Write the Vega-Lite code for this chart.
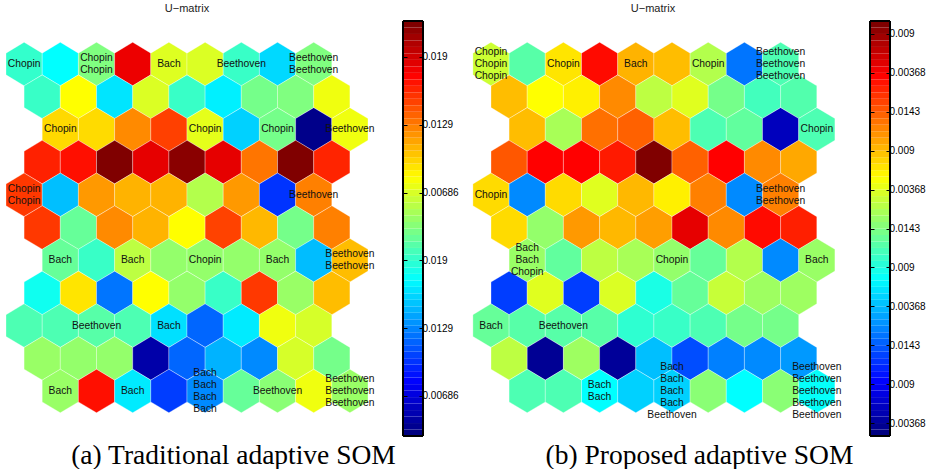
{
"$schema": "https://vega.github.io/schema/vega-lite/v6.json",
"background": "white",
"padding": {"left": 4, "top": 3, "right": 0, "bottom": 0},
"config": {"view": {"stroke": null}, "font": "Liberation Sans", "axis": {"grid": false}, "text": {"font": "Liberation Sans", "fontSize": 10.3, "lineHeight": 12, "lineBreak": "\n", "align": "center", "baseline": "middle", "color": "#111"}},
"bounds": "flush",
"spacing": 35,
"datasets": {
"somA": [
{"r":0,"x":0,"u":0.425,"t":"Chopin"},{"r":0,"x":1,"u":0.375,"t":""},{"r":0,"x":2,"u":0.5,"t":"Chopin\nChopin"},{"r":0,"x":3,"u":0.893,"t":""},{"r":0,"x":4,"u":0.593,"t":"Bach"},{"r":0,"x":5,"u":0.59,"t":""},{"r":0,"x":6,"u":0.43,"t":"Beethoven"},{"r":0,"x":7,"u":0.3375,"t":""},{"r":0,"x":8,"u":0.5,"t":"Beethoven\nBeethoven"},
{"r":1,"x":0.5,"u":0.43,"t":""},{"r":1,"x":1.5,"u":0.625,"t":""},{"r":1,"x":2.5,"u":0.35,"t":""},{"r":1,"x":3.5,"u":0.59,"t":""},{"r":1,"x":4.5,"u":0.43,"t":""},{"r":1,"x":5.5,"u":0.36,"t":""},{"r":1,"x":6.5,"u":0.49,"t":""},{"r":1,"x":7.5,"u":0.5,"t":""},{"r":1,"x":8.5,"u":0.61,"t":""},
{"r":2,"x":1,"u":0.6625,"t":"Chopin"},{"r":2,"x":2,"u":0.66,"t":""},{"r":2,"x":3,"u":0.74,"t":""},{"r":2,"x":4,"u":0.8125,"t":""},{"r":2,"x":5,"u":0.6,"t":"Chopin"},{"r":2,"x":6,"u":0.33,"t":""},{"r":2,"x":7,"u":0.49,"t":"Chopin"},{"r":2,"x":8,"u":0.01,"t":""},{"r":2,"x":9,"u":0.61,"t":"Beethoven"},
{"r":3,"x":0.5,"u":0.8425,"t":""},{"r":3,"x":1.5,"u":0.86,"t":""},{"r":3,"x":2.5,"u":1.0,"t":""},{"r":3,"x":3.5,"u":0.9,"t":""},{"r":3,"x":4.5,"u":0.99,"t":""},{"r":3,"x":5.5,"u":0.9,"t":""},{"r":3,"x":6.5,"u":0.76,"t":""},{"r":3,"x":7.5,"u":1.0,"t":""},{"r":3,"x":8.5,"u":0.84,"t":""},
{"r":4,"x":0,"u":0.82,"t":"Chopin\nChopin"},{"r":4,"x":1,"u":0.3125,"t":""},{"r":4,"x":2,"u":0.725,"t":""},{"r":4,"x":3,"u":0.7,"t":""},{"r":4,"x":4,"u":0.7,"t":""},{"r":4,"x":5,"u":0.55,"t":""},{"r":4,"x":6,"u":0.725,"t":""},{"r":4,"x":7,"u":0.175,"t":""},{"r":4,"x":8,"u":0.75,"t":"Beethoven"},
{"r":5,"x":0.5,"u":0.82,"t":""},{"r":5,"x":1.5,"u":0.475,"t":""},{"r":5,"x":2.5,"u":0.74,"t":""},{"r":5,"x":3.5,"u":0.7,"t":""},{"r":5,"x":4.5,"u":0.625,"t":""},{"r":5,"x":5.5,"u":0.81,"t":""},{"r":5,"x":6.5,"u":0.695,"t":""},{"r":5,"x":7.5,"u":0.49,"t":""},{"r":5,"x":8.5,"u":0.75,"t":""},
{"r":6,"x":1,"u":0.475,"t":"Bach"},{"r":6,"x":2,"u":0.43,"t":""},{"r":6,"x":3,"u":0.56,"t":"Bach"},{"r":6,"x":4,"u":0.52,"t":""},{"r":6,"x":5,"u":0.52,"t":"Chopin"},{"r":6,"x":6,"u":0.52,"t":""},{"r":6,"x":7,"u":0.52,"t":"Bach"},{"r":6,"x":8,"u":0.31,"t":""},{"r":6,"x":9,"u":0.69,"t":"Beethoven\nBeethoven"},
{"r":7,"x":0.5,"u":0.39,"t":""},{"r":7,"x":1.5,"u":0.65,"t":""},{"r":7,"x":2.5,"u":0.24,"t":""},{"r":7,"x":3.5,"u":0.625,"t":""},{"r":7,"x":4.5,"u":0.52,"t":""},{"r":7,"x":5.5,"u":0.43,"t":""},{"r":7,"x":6.5,"u":0.82,"t":""},{"r":7,"x":7.5,"u":0.525,"t":""},{"r":7,"x":8.5,"u":0.69,"t":""},
{"r":8,"x":0,"u":0.45,"t":""},{"r":8,"x":1,"u":0.45,"t":""},{"r":8,"x":2,"u":0.46,"t":"Beethoven"},{"r":8,"x":3,"u":0.45,"t":""},{"r":8,"x":4,"u":0.345,"t":"Bach"},{"r":8,"x":5,"u":0.225,"t":""},{"r":8,"x":6,"u":0.355,"t":""},{"r":8,"x":7,"u":0.61,"t":""},{"r":8,"x":8,"u":0.585,"t":""},
{"r":9,"x":0.5,"u":0.525,"t":""},{"r":9,"x":1.5,"u":0.52,"t":""},{"r":9,"x":2.5,"u":0.52,"t":""},{"r":9,"x":3.5,"u":0.04,"t":""},{"r":9,"x":4.5,"u":0.225,"t":""},{"r":9,"x":5.5,"u":0.3,"t":""},{"r":9,"x":6.5,"u":0.26,"t":""},{"r":9,"x":7.5,"u":0.585,"t":""},{"r":9,"x":8.5,"u":0.49,"t":""},
{"r":10,"x":1,"u":0.525,"t":"Bach"},{"r":10,"x":2,"u":0.86,"t":""},{"r":10,"x":3,"u":0.355,"t":"Bach"},{"r":10,"x":4,"u":0.185,"t":""},{"r":10,"x":5,"u":0.26,"t":"Bach\nBach\nBach\nBach"},{"r":10,"x":6,"u":0.475,"t":""},{"r":10,"x":7,"u":0.51,"t":"Beethoven"},{"r":10,"x":8,"u":0.61,"t":""},{"r":10,"x":9,"u":0.525,"t":"Beethoven\nBeethoven\nBeethoven"}
],
"somB": [
{"r":0,"x":0,"u":0.575,"t":"Chopin\nChopin\nChopin"},{"r":0,"x":1,"u":0.46,"t":""},{"r":0,"x":2,"u":0.65,"t":"Chopin"},{"r":0,"x":3,"u":0.865,"t":""},{"r":0,"x":4,"u":0.7,"t":"Bach"},{"r":0,"x":5,"u":0.69,"t":""},{"r":0,"x":6,"u":0.55,"t":"Chopin"},{"r":0,"x":7,"u":0.24,"t":""},{"r":0,"x":8,"u":0.45,"t":"Beethoven\nBeethoven\nBeethoven"},
{"r":1,"x":0.5,"u":0.69,"t":""},{"r":1,"x":1.5,"u":0.625,"t":""},{"r":1,"x":2.5,"u":0.64,"t":""},{"r":1,"x":3.5,"u":0.74,"t":""},{"r":1,"x":4.5,"u":0.56,"t":""},{"r":1,"x":5.5,"u":0.595,"t":""},{"r":1,"x":6.5,"u":0.49,"t":""},{"r":1,"x":7.5,"u":0.44,"t":""},{"r":1,"x":8.5,"u":0.455,"t":""},
{"r":2,"x":1,"u":0.69,"t":""},{"r":2,"x":2,"u":0.54,"t":""},{"r":2,"x":3,"u":0.765,"t":""},{"r":2,"x":4,"u":0.78,"t":""},{"r":2,"x":5,"u":0.69,"t":""},{"r":2,"x":6,"u":0.45,"t":""},{"r":2,"x":7,"u":0.47,"t":""},{"r":2,"x":8,"u":0.06,"t":""},{"r":2,"x":9,"u":0.45,"t":"Chopin"},
{"r":3,"x":0.5,"u":0.79,"t":""},{"r":3,"x":1.5,"u":0.875,"t":""},{"r":3,"x":2.5,"u":0.875,"t":""},{"r":3,"x":3.5,"u":0.85,"t":""},{"r":3,"x":4.5,"u":1.0,"t":""},{"r":3,"x":5.5,"u":0.78,"t":""},{"r":3,"x":6.5,"u":0.875,"t":""},{"r":3,"x":7.5,"u":0.74,"t":""},{"r":3,"x":8.5,"u":0.71,"t":""},
{"r":4,"x":0,"u":0.66,"t":"Chopin"},{"r":4,"x":1,"u":0.26,"t":""},{"r":4,"x":2,"u":0.66,"t":""},{"r":4,"x":3,"u":0.595,"t":""},{"r":4,"x":4,"u":0.695,"t":""},{"r":4,"x":5,"u":0.64,"t":""},{"r":4,"x":6,"u":0.75,"t":""},{"r":4,"x":7,"u":0.26,"t":""},{"r":4,"x":8,"u":0.75,"t":"Beethoven\nBeethoven"},
{"r":5,"x":0.5,"u":0.66,"t":""},{"r":5,"x":1.5,"u":0.52,"t":""},{"r":5,"x":2.5,"u":0.725,"t":""},{"r":5,"x":3.5,"u":0.695,"t":""},{"r":5,"x":4.5,"u":0.72,"t":""},{"r":5,"x":5.5,"u":0.9,"t":""},{"r":5,"x":6.5,"u":0.74,"t":""},{"r":5,"x":7.5,"u":0.865,"t":""},{"r":5,"x":8.5,"u":0.845,"t":""},
{"r":6,"x":1,"u":0.525,"t":"Bach\nBach\nChopin"},{"r":6,"x":2,"u":0.47,"t":""},{"r":6,"x":3,"u":0.56,"t":""},{"r":6,"x":4,"u":0.54,"t":""},{"r":6,"x":5,"u":0.52,"t":"Chopin"},{"r":6,"x":6,"u":0.475,"t":""},{"r":6,"x":7,"u":0.55,"t":""},{"r":6,"x":8,"u":0.26,"t":""},{"r":6,"x":9,"u":0.525,"t":"Bach"},
{"r":7,"x":0.5,"u":0.185,"t":""},{"r":7,"x":1.5,"u":0.595,"t":""},{"r":7,"x":2.5,"u":0.185,"t":""},{"r":7,"x":3.5,"u":0.59,"t":""},{"r":7,"x":4.5,"u":0.4,"t":""},{"r":7,"x":5.5,"u":0.475,"t":""},{"r":7,"x":6.5,"u":0.57,"t":""},{"r":7,"x":7.5,"u":0.53,"t":""},{"r":7,"x":8.5,"u":0.53,"t":""},
{"r":8,"x":0,"u":0.475,"t":"Bach"},{"r":8,"x":1,"u":0.46,"t":""},{"r":8,"x":2,"u":0.46,"t":"Beethoven"},{"r":8,"x":3,"u":0.46,"t":""},{"r":8,"x":4,"u":0.42,"t":""},{"r":8,"x":5,"u":0.43,"t":""},{"r":8,"x":6,"u":0.45,"t":""},{"r":8,"x":7,"u":0.49,"t":""},{"r":8,"x":8,"u":0.49,"t":""},
{"r":9,"x":0.5,"u":0.56,"t":""},{"r":9,"x":1.5,"u":0.02,"t":""},{"r":9,"x":2.5,"u":0.53,"t":""},{"r":9,"x":3.5,"u":0.025,"t":""},{"r":9,"x":4.5,"u":0.3125,"t":""},{"r":9,"x":5.5,"u":0.2,"t":""},{"r":9,"x":6.5,"u":0.25,"t":""},{"r":9,"x":7.5,"u":0.26,"t":""},{"r":9,"x":8.5,"u":0.275,"t":""},
{"r":10,"x":1,"u":0.45,"t":""},{"r":10,"x":2,"u":0.45,"t":""},{"r":10,"x":3,"u":0.375,"t":"Bach\nBach"},{"r":10,"x":4,"u":0.33,"t":""},{"r":10,"x":5,"u":0.33,"t":"Bach\nBach\nBach\nBach\nBeethoven"},{"r":10,"x":6,"u":0.51,"t":""},{"r":10,"x":7,"u":0.375,"t":""},{"r":10,"x":8,"u":0.51,"t":""},{"r":10,"x":9,"u":0.38,"t":"Beethoven\nBeethoven\nBeethoven\nBeethoven\nBeethoven"}
],
"cmap": [
{"lv":0,"lv1":1,"t":0},{"lv":1,"lv1":2,"t":0.016},{"lv":2,"lv1":3,"t":0.032},{"lv":3,"lv1":4,"t":0.048},{"lv":4,"lv1":5,"t":0.063},{"lv":5,"lv1":6,"t":0.079},{"lv":6,"lv1":7,"t":0.095},{"lv":7,"lv1":8,"t":0.111},
{"lv":8,"lv1":9,"t":0.127},{"lv":9,"lv1":10,"t":0.143},{"lv":10,"lv1":11,"t":0.159},{"lv":11,"lv1":12,"t":0.175},{"lv":12,"lv1":13,"t":0.19},{"lv":13,"lv1":14,"t":0.206},{"lv":14,"lv1":15,"t":0.222},{"lv":15,"lv1":16,"t":0.238},
{"lv":16,"lv1":17,"t":0.254},{"lv":17,"lv1":18,"t":0.27},{"lv":18,"lv1":19,"t":0.286},{"lv":19,"lv1":20,"t":0.302},{"lv":20,"lv1":21,"t":0.317},{"lv":21,"lv1":22,"t":0.333},{"lv":22,"lv1":23,"t":0.349},{"lv":23,"lv1":24,"t":0.365},
{"lv":24,"lv1":25,"t":0.381},{"lv":25,"lv1":26,"t":0.397},{"lv":26,"lv1":27,"t":0.413},{"lv":27,"lv1":28,"t":0.429},{"lv":28,"lv1":29,"t":0.444},{"lv":29,"lv1":30,"t":0.46},{"lv":30,"lv1":31,"t":0.476},{"lv":31,"lv1":32,"t":0.492},
{"lv":32,"lv1":33,"t":0.508},{"lv":33,"lv1":34,"t":0.524},{"lv":34,"lv1":35,"t":0.54},{"lv":35,"lv1":36,"t":0.556},{"lv":36,"lv1":37,"t":0.571},{"lv":37,"lv1":38,"t":0.587},{"lv":38,"lv1":39,"t":0.603},{"lv":39,"lv1":40,"t":0.619},
{"lv":40,"lv1":41,"t":0.635},{"lv":41,"lv1":42,"t":0.651},{"lv":42,"lv1":43,"t":0.667},{"lv":43,"lv1":44,"t":0.683},{"lv":44,"lv1":45,"t":0.698},{"lv":45,"lv1":46,"t":0.714},{"lv":46,"lv1":47,"t":0.73},{"lv":47,"lv1":48,"t":0.746},
{"lv":48,"lv1":49,"t":0.762},{"lv":49,"lv1":50,"t":0.778},{"lv":50,"lv1":51,"t":0.794},{"lv":51,"lv1":52,"t":0.81},{"lv":52,"lv1":53,"t":0.825},{"lv":53,"lv1":54,"t":0.841},{"lv":54,"lv1":55,"t":0.857},{"lv":55,"lv1":56,"t":0.873},
{"lv":56,"lv1":57,"t":0.889},{"lv":57,"lv1":58,"t":0.905},{"lv":58,"lv1":59,"t":0.921},{"lv":59,"lv1":60,"t":0.937},{"lv":60,"lv1":61,"t":0.952},{"lv":61,"lv1":62,"t":0.968},{"lv":62,"lv1":63,"t":0.984},{"lv":63,"lv1":64,"t":1}
]
},
"hconcat": [
{
"width": 362, "height": 415,
"title": {"text": "U−matrix", "fontSize": 11, "fontWeight": "normal", "color": "#222", "baseline": "alphabetic", "offset": -2, "font": "Liberation Sans"},
"data": {"name": "somA"},
"transform": [{"calculate": "datum.t == '' ? 0 : length(split(datum.t, '\\n'))", "as": "n"}],
"encoding": {
"x": {"field": "x", "type": "quantitative", "scale": {"domain": [-0.5, 9.5], "nice": false, "zero": false}, "axis": {"title": "(a) Traditional adaptive SOM", "labels": false, "ticks": false, "domain": false, "titleFont": "Liberation Serif", "titleFontSize": 27.5, "titleFontWeight": "normal", "titleColor": "black", "titleX": 227, "titleY": 27, "titleAlign": "center", "titleBaseline": "alphabetic"}},
"y": {"field": "r", "type": "quantitative", "scale": {"domain": [-1.315, 11.376], "nice": false, "zero": false, "reverse": true}, "axis": null}
},
"layer": [
{"mark": {"type": "point", "shape": "M0,-1L0.832,-0.5L0.832,0.5L0,1L-0.832,0.5L-0.832,-0.5Z", "filled": true, "opacity": 1, "size": 1892, "stroke": "white", "strokeWidth": 0.6, "strokeOpacity": 0.5},
"encoding": {
"color": {"field": "u", "type": "quantitative", "scale": {"domain": [0, 0.125, 0.375, 0.625, 0.875, 1], "range": ["#000080", "#0000ff", "#00ffff", "#ffff00", "#ff0000", "#800000"], "interpolate": "rgb"}, "legend": null}
}},
{"transform": [{"filter": "datum.n == 1"}], "mark": {"type": "text", "dy": 0}, "encoding": {"text": {"field": "t", "type": "nominal"}}},
{"transform": [{"filter": "datum.n == 2"}], "mark": {"type": "text", "dy": -6}, "encoding": {"text": {"field": "t", "type": "nominal"}}},
{"transform": [{"filter": "datum.n == 3"}], "mark": {"type": "text", "dy": -12}, "encoding": {"text": {"field": "t", "type": "nominal"}}},
{"transform": [{"filter": "datum.n == 4"}], "mark": {"type": "text", "dy": -18}, "encoding": {"text": {"field": "t", "type": "nominal"}}}
]
},
{
"width": 20, "height": 415,
"data": {"name": "cmap"},
"layer": [
{"mark": {"type": "rect"},
"encoding": {
"x": {"datum": 0, "type": "quantitative", "scale": {"domain": [0, 1], "nice": false, "zero": false}, "axis": null},
"x2": {"datum": 1},
"y": {"field": "lv", "type": "quantitative", "scale": {"domain": [0, 64], "nice": false, "zero": false}, "axis": {"orient": "right", "title": null, "values": [6.17, 16.63, 27.08, 37.54, 47.99, 58.45], "labelExpr": "['0.00686','0.0129','0.019'][round((datum.value-6.17)/10.456)%3]", "tickSize": -4, "tickColor": "black", "domain": false, "labelPadding": 3, "labelFontSize": 10, "labelColor": "black", "labelFont": "Liberation Sans", "labelOverlap": false, "labelFlush": false, "zindex": 1}},
"y2": {"field": "lv1"},
"color": {"field": "t", "type": "quantitative", "scale": {"domain": [0, 0.125, 0.375, 0.625, 0.875, 1], "range": ["#000080", "#0000ff", "#00ffff", "#ffff00", "#ff0000", "#800000"], "interpolate": "rgb"}, "legend": null}
}},
{"mark": {"type": "rect", "fill": null, "fillOpacity": 0, "stroke": "black", "strokeWidth": 1},
"encoding": {
"x": {"datum": 0, "type": "quantitative"},
"x2": {"datum": 1},
"y": {"datum": 0, "type": "quantitative", "axis": {"orient": "left", "title": null, "values": [6.17, 16.63, 27.08, 37.54, 47.99, 58.45], "labels": false, "tickSize": -4, "tickColor": "black", "domain": false, "zindex": 1}},
"y2": {"datum": 64}
}}
],
"resolve": {"axis": {"y": "independent"}}
},
{
"width": 377, "height": 415,
"title": {"text": "U−matrix", "fontSize": 11, "fontWeight": "normal", "color": "#222", "baseline": "alphabetic", "offset": -2, "font": "Liberation Sans", "dx": 6.5},
"data": {"name": "somB"},
"transform": [{"calculate": "datum.t == '' ? 0 : length(split(datum.t, '\\n'))", "as": "n"}],
"encoding": {
"x": {"field": "x", "type": "quantitative", "scale": {"domain": [-0.9116, 9.5028], "nice": false, "zero": false}, "axis": {"title": "(b) Proposed adaptive SOM", "labels": false, "ticks": false, "domain": false, "titleFont": "Liberation Serif", "titleFontSize": 27.5, "titleFontWeight": "normal", "titleColor": "black", "titleX": 241, "titleY": 27, "titleAlign": "center", "titleBaseline": "alphabetic"}},
"y": {"field": "r", "type": "quantitative", "scale": {"domain": [-1.315, 11.376], "nice": false, "zero": false, "reverse": true}, "axis": null}
},
"layer": [
{"mark": {"type": "point", "shape": "M0,-1L0.832,-0.5L0.832,0.5L0,1L-0.832,0.5L-0.832,-0.5Z", "filled": true, "opacity": 1, "size": 1892, "stroke": "white", "strokeWidth": 0.6, "strokeOpacity": 0.5},
"encoding": {
"color": {"field": "u", "type": "quantitative", "scale": {"domain": [0, 0.125, 0.375, 0.625, 0.875, 1], "range": ["#000080", "#0000ff", "#00ffff", "#ffff00", "#ff0000", "#800000"], "interpolate": "rgb"}, "legend": null}
}},
{"transform": [{"filter": "datum.n == 1"}], "mark": {"type": "text", "dy": 0}, "encoding": {"text": {"field": "t", "type": "nominal"}}},
{"transform": [{"filter": "datum.n == 2"}], "mark": {"type": "text", "dy": -6}, "encoding": {"text": {"field": "t", "type": "nominal"}}},
{"transform": [{"filter": "datum.n == 3"}], "mark": {"type": "text", "dy": -12}, "encoding": {"text": {"field": "t", "type": "nominal"}}},
{"transform": [{"filter": "datum.n == 5"}], "mark": {"type": "text", "dy": -24}, "encoding": {"text": {"field": "t", "type": "nominal"}}}
]
},
{
"width": 20, "height": 415,
"data": {"name": "cmap"},
"layer": [
{"mark": {"type": "rect"},
"encoding": {
"x": {"datum": 0, "type": "quantitative", "scale": {"domain": [0, 1], "nice": false, "zero": false}, "axis": null},
"x2": {"datum": 1},
"y": {"field": "lv", "type": "quantitative", "scale": {"domain": [0, 64], "nice": false, "zero": false}, "axis": {"orient": "right", "title": null, "values": [2, 8, 14, 20, 26, 32, 38, 44, 50, 56, 62], "labelExpr": "['0.00368','0.009','0.0143'][round((datum.value-2)/6)%3]", "tickSize": -4, "tickColor": "black", "domain": false, "labelPadding": 3, "labelFontSize": 10, "labelColor": "black", "labelFont": "Liberation Sans", "labelOverlap": false, "labelFlush": false, "zindex": 1}},
"y2": {"field": "lv1"},
"color": {"field": "t", "type": "quantitative", "scale": {"domain": [0, 0.125, 0.375, 0.625, 0.875, 1], "range": ["#000080", "#0000ff", "#00ffff", "#ffff00", "#ff0000", "#800000"], "interpolate": "rgb"}, "legend": null}
}},
{"mark": {"type": "rect", "fill": null, "fillOpacity": 0, "stroke": "black", "strokeWidth": 1},
"encoding": {
"x": {"datum": 0, "type": "quantitative"},
"x2": {"datum": 1},
"y": {"datum": 0, "type": "quantitative", "axis": {"orient": "left", "title": null, "values": [2, 8, 14, 20, 26, 32, 38, 44, 50, 56, 62], "labels": false, "tickSize": -4, "tickColor": "black", "domain": false, "zindex": 1}},
"y2": {"datum": 64}
}}
],
"resolve": {"axis": {"y": "independent"}}
}
]
}
